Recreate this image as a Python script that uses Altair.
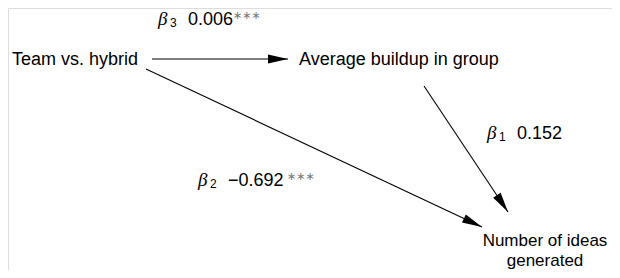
import math
import altair as alt
import pandas as pd

# Nodes (box-free labels)
node_left_text = ["Team vs. hybrid", "Average buildup in group"]
node_left_x = [12, 299]
node_left_y = [65, 65]
node_center_text = ["Number of ideas", "generated"]
node_center_x = [545, 545]
node_center_y = [246, 266]

# Paths (arrows)
arrow_x1 = [152, 146, 424]
arrow_y1 = [59, 69, 86]
arrow_x2 = [288, 482, 508]
arrow_y2 = [59, 227, 212]

# Coefficient labels
coef_sub = ["3", "1", "2"]
coef_val = ["0.006", "0.152", "\u22120.692"]
coef_star = ["\u2217\u2217\u2217", "", "\u2217\u2217\u2217"]
coef_x = [158, 487, 198]
coef_y = [25, 139, 186]
star_x = [233, 0, 287]

FONT = "Liberation Sans"
W, H = 604, 262

X = lambda f: alt.X(f"{f}:Q", scale=alt.Scale(domain=[8, 8 + W], nice=False, zero=False), axis=None)
Y = lambda f: alt.Y(f"{f}:Q", scale=alt.Scale(domain=[8, 8 + H], nice=False, zero=False, reverse=True), axis=None)

left_df = pd.DataFrame({"t": node_left_text, "x": node_left_x, "y": node_left_y})
center_df = pd.DataFrame({"t": node_center_text, "x": node_center_x, "y": node_center_y})

arr = pd.DataFrame({"x": arrow_x1, "y": arrow_y1, "x2": arrow_x2, "y2": arrow_y2})
arr["angle"] = [math.degrees(math.atan2(b2 - b1, a2 - a1)) % 360
                for a1, b1, a2, b2 in zip(arrow_x1, arrow_y1, arrow_x2, arrow_y2)]

coef = pd.DataFrame({"sub": coef_sub, "val": coef_val, "star": coef_star,
                     "x": coef_x, "y": coef_y, "sx": star_x})
coef["subx"] = coef["x"] + 12
coef["vx"] = coef["x"] + 30
coef["suby"] = coef["y"] + 2
coef["stary"] = coef["y"] - 6
stars = coef[coef["star"] != ""]

base_left = alt.Chart(left_df).mark_text(align="left", baseline="alphabetic", font=FONT, fontSize=18, color="black").encode(
    x=X("x"), y=Y("y"), text="t:N")
base_center = alt.Chart(center_df).mark_text(align="center", baseline="alphabetic", font=FONT, fontSize=17, color="black").encode(
    x=X("x"), y=Y("y"), text="t:N")

lines = alt.Chart(arr).mark_rule(color="black", strokeWidth=1.1).encode(
    x=X("x"), y=Y("y"), x2="x2:Q", y2="y2:Q")
heads = alt.Chart(arr).mark_point(shape="M0,0 L-2,-0.45 L-2,0.45 Z", filled=True, color="black",
                                  opacity=1, size=400, strokeWidth=0).encode(
    x=X("x2"), y=Y("y2"), angle=alt.Angle("angle:Q", scale=None))

beta = alt.Chart(coef).mark_text(align="left", baseline="alphabetic", font="Liberation Serif", fontStyle="italic",
                                 fontSize=19, color="black", text="\u03b2").encode(x=X("x"), y=Y("y"))
subs = alt.Chart(coef).mark_text(align="left", baseline="alphabetic", font=FONT, fontSize=12, color="black").encode(
    x=X("subx"), y=Y("suby"), text="sub:N")
vals = alt.Chart(coef).mark_text(align="left", baseline="alphabetic", font=FONT, fontSize=18, color="black").encode(
    x=X("vx"), y=Y("y"), text="val:N")
strs = alt.Chart(stars).mark_text(align="left", baseline="alphabetic", font="DejaVu Sans", fontSize=11, color="#777777").encode(
    x=X("sx"), y=Y("stary"), text="star:N")

chart = alt.layer(lines, heads, base_left, base_center, beta, subs, vals, strs).properties(
    width=W, height=H, padding=0, autosize=alt.AutoSizeParams(type="none")
).configure_view(stroke=None).configure(background="white")

chart.save("out.html", embed_options={"renderer": "svg", "actions": False})
